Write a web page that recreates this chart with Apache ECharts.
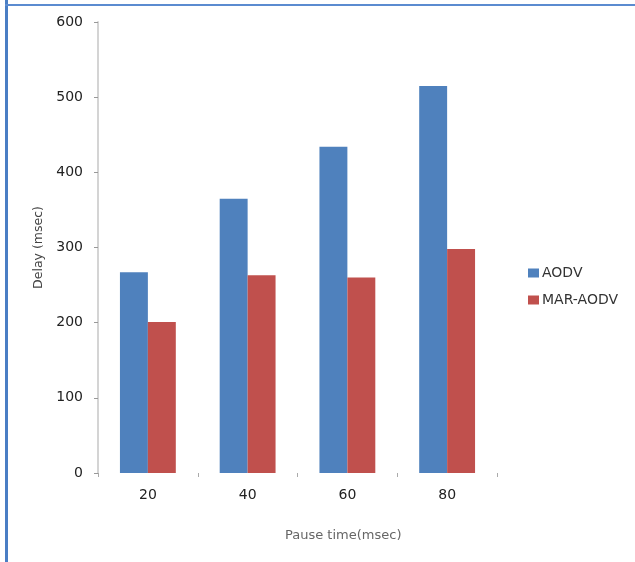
<!DOCTYPE html>
<html><head><meta charset="utf-8">
<script src="https://cdn.jsdelivr.net/npm/echarts@6/dist/echarts.min.js"></script>
<style>html,body{margin:0;padding:0;background:#fff}#c{width:635px;height:562px}</style>
</head><body><div id="c"></div>
<script>
const categories = ['20','40','60','80'];
const aodv = [267, 365, 434, 515];
const marAodv = [201, 263, 260, 298];
const yTicks = {min:0, max:600, interval:100};

const chart = echarts.init(document.getElementById('c'));
chart.setOption({
  animation:false,
  backgroundColor:'#fff',
  graphic:[
    {type:'rect', shape:{x:5,y:0,width:3,height:562}, style:{fill:'#4a7ec4'}},
    {type:'rect', shape:{x:5,y:4,width:630,height:2}, style:{fill:'#5b8bd0'}},
    {type:'text', left:285, top:529, style:{text:'Pause time(msec)', fontFamily:'DejaVu Sans', fontSize:13, fill:'#666'}}
  ],
  grid:{left:98, top:22, right:138, bottom:89},
  legend:{
    orient:'vertical', left:523, top:261, itemWidth:11, itemHeight:9, itemGap:13,
    icon:'rect',
    textStyle:{fontFamily:'DejaVu Sans', fontSize:14, color:'#333', padding:[0,0,0,-2]},
    data:['AODV','MAR-AODV']
  },
  xAxis:{
    type:'category', data:categories,
    axisLine:{show:false},
    axisTick:{show:true, length:4, lineStyle:{color:'#aaa'}},
    axisLabel:{fontFamily:'DejaVu Sans', fontSize:14, color:'#222', margin:15}
  },
  yAxis:{
    type:'value', min:yTicks.min, max:yTicks.max, interval:yTicks.interval,
    name:'Delay (msec)', nameLocation:'middle', nameGap:50, nameRotate:90,
    nameTextStyle:{fontFamily:'DejaVu Sans', fontSize:12.5, color:'#444'},
    axisLine:{show:true, lineStyle:{color:'#d4d4d4', width:2}},
    axisTick:{show:true, length:4, lineStyle:{color:'#999'}},
    splitLine:{show:false},
    axisLabel:{fontFamily:'DejaVu Sans', fontSize:14, color:'#222', margin:15}
  },
  series:[
    {name:'AODV', type:'bar', data:aodv, barGap:'0%', barCategoryGap:'44%', itemStyle:{color:'#4f81bd'}},
    {name:'MAR-AODV', type:'bar', data:marAodv, itemStyle:{color:'#c0504d'}}
  ]
});
</script></body></html>
